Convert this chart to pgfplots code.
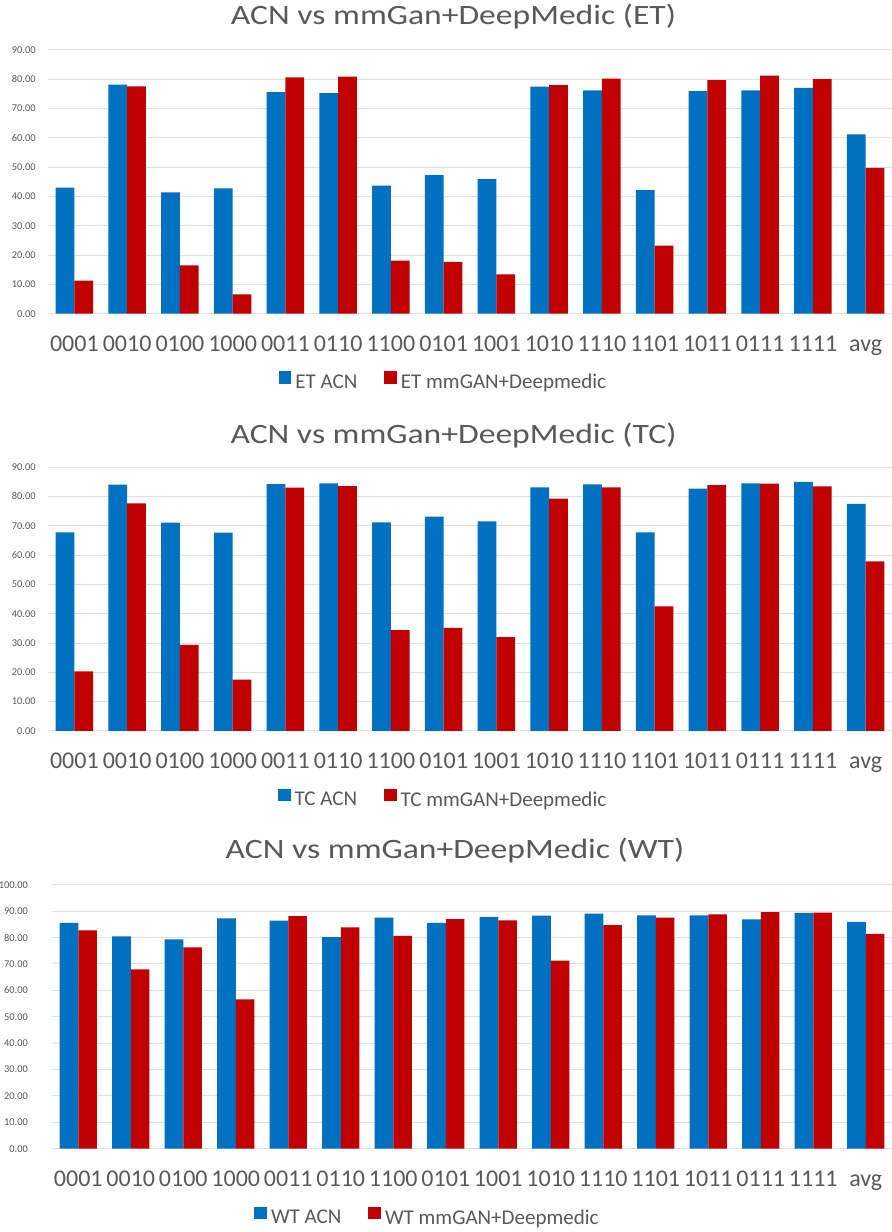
\documentclass[border=0pt]{standalone}
\usepackage{fontspec}
\setmainfont{Carlito}
\newfontfamily\titlefont[FakeStretch=1.2]{Carlito}
\usepackage{pgfplots}
\usepackage{pgfplotstable}
\pgfplotsset{compat=1.18}
\definecolor{acnblue}{HTML}{0070C0}
\definecolor{mmred}{HTML}{C00000}
\definecolor{txtgray}{HTML}{595959}
\definecolor{gridgray}{HTML}{E0E0E0}

\pgfplotstableread{
x acn mm
0 43.0 11.3
1 78.1 77.5
2 41.4 16.5
3 42.7 6.6
4 75.5 80.6
5 75.2 80.8
6 43.7 18.1
7 47.2 17.7
8 45.9 13.4
9 77.4 77.9
10 76.1 80.1
11 42.1 23.2
12 75.9 79.6
13 76.1 81.2
14 77.0 80.0
15 61.1 49.7
}\etdata

\pgfplotstableread{
x acn mm
0 67.7 20.3
1 84.0 77.6
2 71.0 29.4
3 67.6 17.5
4 84.2 83.0
5 84.4 83.5
6 71.1 34.4
7 73.1 35.2
8 71.5 32.0
9 83.1 79.2
10 84.1 83.1
11 67.7 42.5
12 82.6 83.8
13 84.4 84.3
14 84.9 83.4
15 77.4 57.8
}\tcdata

\pgfplotstableread{
x acn mm
0 85.5 82.7
1 80.4 67.9
2 79.3 76.3
3 87.2 56.6
4 86.4 88.1
5 80.1 83.8
6 87.5 80.6
7 85.5 87.0
8 87.8 86.5
9 88.3 71.2
10 89.0 84.7
11 88.4 87.5
12 88.4 88.8
13 86.9 89.6
14 89.3 89.4
15 85.9 81.4
}\wtdata

\pgfplotsset{
  mybars/.style={
    scale only axis,
    ybar=0pt, bar width=0.356,
    xmin=-0.5, xmax=15.5, ymin=0, enlargelimits=false,
    xtick={0,...,15},
    xticklabels={0001,0010,0100,1000,0011,0110,1100,0101,1001,1010,1110,1101,1011,0111,1111,avg},
    axis line style={draw=none},
    major tick length=0pt,
    ymajorgrids, grid style={gridgray, line width=0.5pt},
    xticklabel style={font=\fontsize{12}{14}\selectfont, text=txtgray, anchor=base, yshift=-18.7pt},
    yticklabel style={font=\fontsize{5.2}{6}\selectfont, text=txtgray, anchor=east, inner xsep=0pt, xshift=-6pt},
    /pgf/number format/fixed, /pgf/number format/fixed zerofill,
    /pgf/number format/precision=2, /pgf/number format/assume math mode=true,
    legend columns=2,
    legend style={draw=none, fill=none, inner sep=0pt,
      font=\fontsize{10.5}{12}\selectfont, text=txtgray,
      column sep=2pt,
      nodes={inner sep=0pt}},
    legend image code/.code={\fill[##1] (0pt,-0.3pt) rectangle (6.3pt,6.0pt);},
  },
  acnstyle/.style={fill=acnblue, draw=none},
  mmstyle/.style={fill=mmred, draw=none},
}

\begin{document}
\begin{tikzpicture}
\path[use as bounding box] (0,0) rectangle (446pt,616pt);

% ET
\begin{axis}[mybars, at={(24pt,459.15pt)}, anchor=south west,
  width=422pt, height=132pt, ymax=90, ytick={0,10,...,90},
  legend style={at={(axis description cs:0.273,-0.2564)}, anchor=west}]
  \addplot[acnstyle] table[x=x,y=acn] {\etdata};
  \addplot[mmstyle] table[x=x,y=mm] {\etdata};
  \legend{ET ACN\hspace*{11.5pt}, ET mmGAN+Deepmedic}
\end{axis}

% TC
\begin{axis}[mybars, at={(24pt,250.5pt)}, anchor=south west,
  width=422pt, height=132pt, ymax=90, ytick={0,10,...,90},
  legend style={at={(axis description cs:0.272,-0.2576)}, anchor=west}]
  \addplot[acnstyle] table[x=x,y=acn] {\tcdata};
  \addplot[mmstyle] table[x=x,y=mm] {\tcdata};
  \legend{TC ACN\hspace*{11.5pt}, TC mmGAN+Deepmedic}
\end{axis}

% WT
\begin{axis}[mybars, at={(26pt,41.65pt)}, anchor=south west,
  width=420pt, height=132pt, ymax=100, ytick={0,10,...,100},
  yticklabel style={xshift=-5.85pt},
  legend style={at={(axis description cs:0.2405,-0.2587)}, anchor=west}]
  \addplot[acnstyle] table[x=x,y=acn] {\wtdata};
  \addplot[mmstyle] table[x=x,y=mm] {\wtdata};
  \legend{WT ACN\hspace*{11.5pt}, WT mmGAN+Deepmedic}
\end{axis}

\node[anchor=base, text=txtgray, font=\titlefont\fontsize{14}{16}\selectfont] at (226.75pt,603.5pt) {ACN vs mmGan+DeepMedic (ET)};
\node[anchor=base, text=txtgray, font=\titlefont\fontsize{14}{16}\selectfont] at (226.75pt,394pt) {ACN vs mmGan+DeepMedic (TC)};
\node[anchor=base, text=txtgray, font=\titlefont\fontsize{14}{16}\selectfont] at (227.5pt,186.5pt) {ACN vs mmGan+DeepMedic (WT)};
\end{tikzpicture}
\end{document}
